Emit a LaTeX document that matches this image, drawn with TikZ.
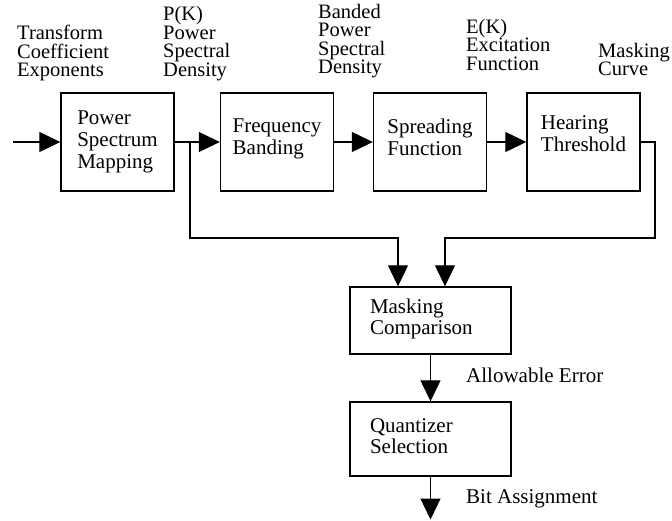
\documentclass[tikz,border=0pt]{standalone}
\usepackage{fontspec}
\setmainfont{Liberation Serif}
\usetikzlibrary{arrows.meta}

\begin{document}
\begin{tikzpicture}[
  x=1pt,y=-1pt,
  stage/.style={draw,line width=1.4pt,minimum width=113pt,minimum height=98pt,
    align=left,inner sep=0pt,font=\fontsize{21}{22}\selectfont},
  judge/.style={draw,line width=1.4pt,minimum width=161pt,text width=121pt,
    inner xsep=20pt,inner ysep=0pt,align=left,font=\fontsize{21}{21}\selectfont},
  signal/.style={anchor=north west,inner sep=0pt,align=left,
    font={\fontsize{20.5}{18.5}\selectfont\lineskiplimit=-30pt\relax}},
  note/.style={anchor=base west,inner sep=0pt,font=\fontsize{21}{22}\selectfont},
  flow/.style={-{Triangle[length=21pt,width=20pt]},line width=1.3pt},
]
\useasboundingbox (0,0) rectangle (672,520);

\node[signal] (tce) at (17,25) {Transform\\Coefficient\\Exponents};
\node[signal] (psd) at (163,6.5) {P(K)\\Power\\Spectral\\Density};
\node[signal] (bpsd) at (318,4) {Banded\\Power\\Spectral\\Density};
\node[signal] (exc) at (466,19) {E(K)\\Excitation\\Function};
\node[signal] (mcurve) at (598,43) {Masking\\Curve};

\node[stage] (psm) at (117.5,142) {Power\\Spectrum\\Mapping};
\node[stage,text depth=10.6pt] (fb) at (277,142) {Frequency\\Banding};
\node[stage,text depth=9pt] (sf) at (430,142) {Spreading\\Function};
\node[stage,text depth=16pt] (ht) at (583.5,142) {Hearing\\Threshold};

\node[judge,minimum height=67pt,text depth=28pt] (mc) at (430.5,320.5)
  {Masking\\Comparison};
\node[judge,minimum height=74pt,text depth=27pt] (qs) at (430.5,439)
  {Quantizer\\Selection};

\node[note] (err) at (466,382) {Allowable Error};
\node[note] (bits) at (466,503) {Bit Assignment};

\coordinate (in) at (13,142);
\coordinate (j1) at (190,142);
\coordinate (k1) at (398,238);
\coordinate (j2) at (655,238);
\coordinate (k2) at (445,238);
\coordinate (out) at (430.5,519.5);

\draw[flow] (in) -- (psm);
\draw[flow] (psm) -- (fb);
\draw[flow] (fb) -- (sf);
\draw[flow] (sf) -- (ht);
\draw[flow] (j1) |- (k1) -- (k1 |- mc.north);
\draw[flow] (ht.east) -| (j2) -- (k2) -- (k2 |- mc.north);
\draw[flow] (mc) -- (qs);
\draw[flow] (qs) -- (out);
\end{tikzpicture}
\end{document}
